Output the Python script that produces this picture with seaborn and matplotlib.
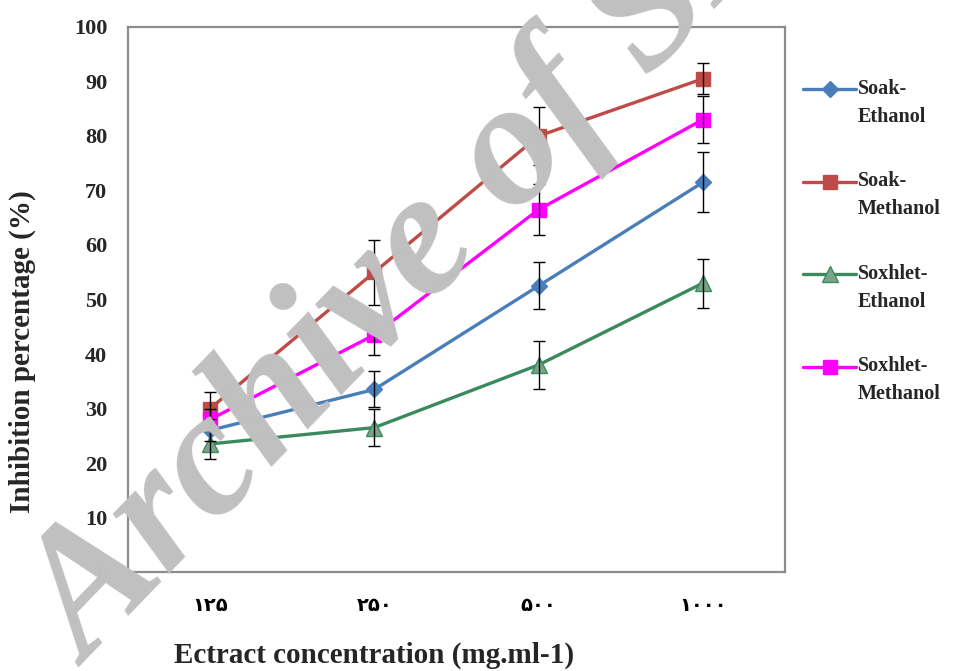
import numpy as np
import pandas as pd
import matplotlib
matplotlib.use("Agg")
import matplotlib.pyplot as plt
import seaborn as sns
from matplotlib.legend_handler import HandlerLine2D

# ---- data ----
concentrations = ["125", "250", "500", "1000"]
tick_labels = ["\u06f1\u06f2\u06f5", "\u06f2\u06f5\u06f0", "\u06f5\u06f0\u06f0", "\u06f1\u06f0\u06f0\u06f0"]
series_names = ["Soak-Ethanol", "Soak-Methanol", "Soxhlet-Ethanol", "Soxhlet-Methanol"]
legend_labels = ["Soak-\nEthanol", "Soak-\nMethanol", "Soxhlet-\nEthanol", "Soxhlet-\nMethanol"]
soak_ethanol = [26.0, 33.5, 52.5, 71.5]
soak_methanol = [30.0, 55.0, 80.0, 90.5]
soxhlet_ethanol = [23.5, 26.5, 38.0, 53.0]
soxhlet_methanol = [28.0, 43.5, 66.5, 83.0]
err_soak_ethanol = [2.0, 3.3, 4.3, 5.5]
err_soak_methanol = [3.0, 6.0, 5.3, 2.8]
err_soxhlet_ethanol = [2.8, 3.4, 4.4, 4.5]
err_soxhlet_methanol = [2.0, 3.7, 4.6, 4.3]

values = [soak_ethanol, soak_methanol, soxhlet_ethanol, soxhlet_methanol]
errors = [err_soak_ethanol, err_soak_methanol, err_soxhlet_ethanol, err_soxhlet_methanol]

rows = []
for name, vals, errs in zip(series_names, values, errors):
    for c, v, e in zip(concentrations, vals, errs):
        rows.append({"conc": c, "value": v, "err": e, "series": name})
df = pd.DataFrame(rows)

# ---- style ----
sns.set_theme(style="white")
plt.rcParams["font.family"] = ["Liberation Serif", "DejaVu Serif"]
plt.rcParams["font.weight"] = "bold"

line_colors = {"Soak-Ethanol": "#4A7EBB", "Soak-Methanol": "#BE4B48",
               "Soxhlet-Ethanol": "#3A8A5E", "Soxhlet-Methanol": "#FF00FF"}
face_colors = {"Soak-Ethanol": "#4A7EBB", "Soak-Methanol": "#BE4B48",
               "Soxhlet-Ethanol": "#7BA38C", "Soxhlet-Methanol": "#FF00FF"}
markers = {"Soak-Ethanol": "D", "Soak-Methanol": "s",
           "Soxhlet-Ethanol": "^", "Soxhlet-Methanol": "s"}
msizes = {"Soak-Ethanol": 8, "Soak-Methanol": 10, "Soxhlet-Ethanol": 11, "Soxhlet-Methanol": 10}

fig = plt.figure(figsize=(9.6, 6.71), dpi=100)
ax = fig.add_axes([0.1333, 0.1475, 0.6844, 0.8123])

for name in series_names:
    sub = df[df["series"] == name]
    sns.lineplot(data=sub, x="conc", y="value", ax=ax, color=line_colors[name],
                 linewidth=2.4, marker=markers[name], markersize=msizes[name],
                 markerfacecolor=face_colors[name], markeredgecolor=line_colors[name],
                 markeredgewidth=1, label=name, sort=False, zorder=3)
    ax.errorbar(sub["conc"], sub["value"], yerr=sub["err"], fmt="none",
                ecolor="black", elinewidth=1.0, capsize=4.5, capthick=1.0, zorder=4)

ax.set_xlim(-0.5, 3.5)
ax.set_ylim(0, 100)
ax.set_yticks(np.arange(0, 101, 10))
ax.set_xticks(range(len(concentrations)))
ax.set_xticklabels(tick_labels, fontfamily="DejaVu Sans", fontweight="bold", fontsize=14)
ax.set_xticks([0.5, 1.5, 2.5], minor=True)
ax.tick_params(axis="x", which="major", length=0, pad=17, colors="black")
ax.tick_params(axis="x", which="minor", length=6, direction="in", color="#999999", width=1)
ax.tick_params(axis="y", which="major", length=5, direction="in", color="#999999",
               width=1, pad=15, labelsize=16)
for lab in ax.get_yticklabels():
    lab.set_fontweight("bold")

for s in ax.spines.values():
    s.set_color("#8C8C8C")
    s.set_linewidth(1.6)
    s.set_visible(True)

ax.set_xlabel("Ectract concentration (mg.ml-1)", fontsize=21, fontweight="bold")
ax.set_ylabel("Inhibition percentage (%)", fontsize=21, fontweight="bold")
ax.xaxis.set_label_coords(0.375, -0.128)
ax.yaxis.set_label_coords(-0.14, 0.405)


class UpHandler(HandlerLine2D):
    def create_artists(self, legend, orig_handle, xdescent, ydescent, width, height, fontsize, trans):
        return super().create_artists(legend, orig_handle, xdescent, ydescent - 1.4 * fontsize,
                                      width, height, fontsize, trans)


handles, _ = ax.get_legend_handles_labels()
leg = fig.legend(handles, legend_labels, loc="upper left", bbox_to_anchor=(0.818, 0.91),
                 frameon=False, handlelength=2.6, handletextpad=0.1, labelspacing=2.2,
                 prop={"size": 14.5, "weight": "bold", "family": "Liberation Serif"},
                 handler_map={h: UpHandler(numpoints=1) for h in handles})
for t in leg.get_texts():
    t.set_linespacing(1.55)
if ax.get_legend():
    ax.get_legend().remove()

# watermark
fig.text(0.092, 0.005, "Archive of SID", rotation=46, rotation_mode="anchor",
         ha="left", va="baseline", fontsize=128, fontweight="bold", style="italic",
         family="Liberation Serif", color="#C0C0C0", zorder=20)

fig.savefig("out.png", dpi=100)
